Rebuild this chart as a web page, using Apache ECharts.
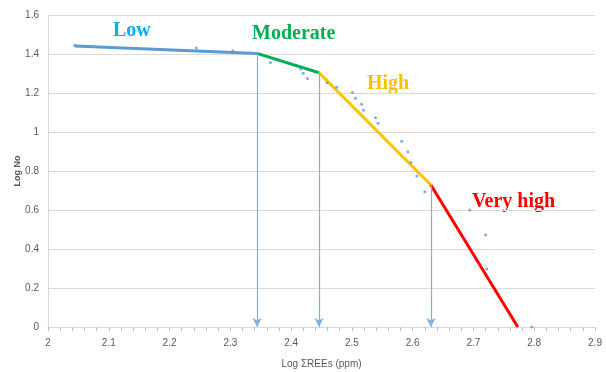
<!DOCTYPE html>
<html>
<head>
<meta charset="utf-8">
<script src="https://cdn.jsdelivr.net/npm/echarts@6/dist/echarts.min.js"></script>
<style>html,body{margin:0;padding:0;background:#fff}#c{width:606px;height:372px}</style>
</head>
<body>
<div id="c"></div>
<script>
// Observed points (Log ΣREEs, Log No)
var obsX = [2.044, 2.244, 2.304, 2.366, 2.416, 2.420, 2.427, 2.459, 2.475, 2.501, 2.506, 2.516, 2.519, 2.539, 2.543, 2.582, 2.592, 2.597, 2.607, 2.620, 2.694, 2.720, 2.722, 2.796];
var obsY = [1.445, 1.431, 1.417, 1.357, 1.323, 1.301, 1.275, 1.253, 1.229, 1.202, 1.173, 1.142, 1.111, 1.073, 1.045, 0.952, 0.899, 0.843, 0.774, 0.694, 0.600, 0.472, 0.297, 0.0];
// Segment break points
var breakX = [2.044, 2.344, 2.446, 2.630, 2.773];
var breakY = [1.441, 1.403, 1.304, 0.728, 0.0];
var segNames = ['Low', 'Moderate', 'High', 'Very high'];
var segColors = ['#5b9bd5', '#00b050', '#ffc000', '#ff0000'];
var xTicks = [2, 2.1, 2.2, 2.3, 2.4, 2.5, 2.6, 2.7, 2.8, 2.9];
var yTicks = [0, 0.2, 0.4, 0.6, 0.8, 1, 1.2, 1.4, 1.6];

var series = [];
for (var i = 0; i < 4; i++) {
  series.push({
    type: 'line', name: segNames[i], symbol: 'none', silent: true, z: 3,
    lineStyle: { color: segColors[i], width: 3 },
    data: [[breakX[i], breakY[i]], [breakX[i + 1], breakY[i + 1]]]
  });
}
var arrowData = [];
for (var j = 1; j <= 3; j++) {
  arrowData.push([{ coord: [breakX[j], breakY[j]] }, { coord: [breakX[j], 0] }]);
}
series.push({
  type: 'scatter', name: 'obs', symbolSize: 3, z: 4,
  itemStyle: { color: '#5b9bd5' },
  data: obsX.map(function (x, k) { return [x, obsY[k]]; }),
  markLine: {
    silent: true, symbol: ['none', 'arrow'], symbolSize: [7, 9],
    label: { show: false },
    lineStyle: { color: '#7fb0de', width: 1.2, type: 'solid' },
    data: arrowData
  }
});

var chart = echarts.init(document.getElementById('c'), null, { renderer: 'canvas' });
var lblFont = 'Liberation Sans';
chart.setOption({
  animation: false,
  grid: { left: 48, right: 11, top: 15, bottom: 45, containLabel: false, outerBoundsMode: 'none' },
  xAxis: {
    type: 'value', min: 2, max: 2.9, interval: 0.1,
    name: 'Log ΣREEs (ppm)', nameLocation: 'middle', nameGap: 32, nameMoveOverlap: false,
    nameTextStyle: { color: '#595959', fontSize: 10, fontFamily: lblFont },
    axisLine: { show: true, lineStyle: { color: '#d9d9d9' } },
    axisTick: { show: true, length: 4, lineStyle: { color: '#bfbfbf' } },
    minorTick: { show: true, splitNumber: 5, length: 4, lineStyle: { color: '#bfbfbf' } },
    splitLine: { show: false },
    axisLabel: { color: '#595959', fontSize: 10, fontFamily: lblFont, margin: 11,
      formatter: function (v) { return String(Math.round(v * 10) / 10); } }
  },
  yAxis: {
    type: 'value', min: 0, max: 1.6, interval: 0.2,
    name: 'Log No', nameLocation: 'middle', nameGap: 26, nameRotate: 90, nameMoveOverlap: false,
    nameTextStyle: { color: '#595959', fontSize: 9, fontWeight: 'bold', fontFamily: lblFont },
    axisLine: { show: true, lineStyle: { color: '#d9d9d9' } },
    axisTick: { show: false },
    splitLine: { show: true, lineStyle: { color: '#d9d9d9', width: 1 } },
    axisLabel: { color: '#595959', fontSize: 10, fontFamily: lblFont, margin: 9,
      formatter: function (v) { return String(Math.round(v * 10) / 10); } }
  },
  graphic: [
    { type: 'text', left: 113, top: 21, style: { text: 'Low', fill: '#00b0f0', font: 'bold 20px "Liberation Serif"' } },
    { type: 'text', left: 252, top: 24, style: { text: 'Moderate', fill: '#00b050', font: 'bold 20px "Liberation Serif"' } },
    { type: 'text', left: 367, top: 74, style: { text: 'High', fill: '#ffc000', font: 'bold 20px "Liberation Serif"' } },
    { type: 'text', left: 472, top: 192, style: { text: 'Very high', fill: '#ff0000', font: 'bold 20px "Liberation Serif"' } }
  ],
  series: series
});
</script>
</body>
</html>
